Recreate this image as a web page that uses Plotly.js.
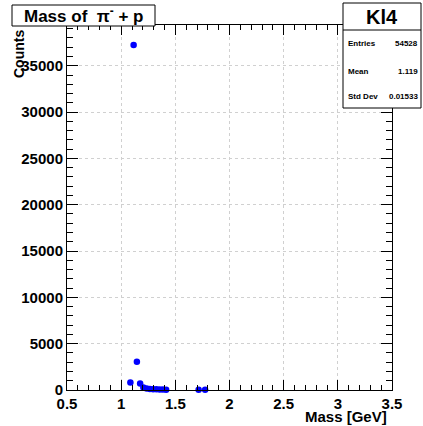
<!DOCTYPE html>
<html>
<head>
<meta charset="utf-8">
<script src="https://cdn.plot.ly/plotly-3.0.1.min.js"></script>
<style>html,body{margin:0;padding:0;background:#fff;}#chart{width:423px;height:426px;}</style>
</head>
<body>
<div id="chart"></div>
<script>
// Data (bin centres, counts)
const massBins = [1.085, 1.115, 1.145, 1.175, 1.205, 1.235, 1.265, 1.295, 1.325, 1.355, 1.385, 1.415, 1.715, 1.775];
const counts   = [800, 37250, 3060, 690, 260, 150, 110, 90, 70, 60, 50, 40, 30, 20];
const histName = "Kl4";
const statLabels = ["Entries", "Mean", "Std Dev"];
const statValues = ["54528", "1.119", "0.01533"];
const titleText = "Mass of  \u03c0<sup>-</sup> + p";
const xTitle = "Mass [GeV]";
const yTitle = "Counts";

const W = 423, H = 426, L = 67, R = 31, T = 25, B = 36;
const pw = W - L - R, ph = H - T - B;
const px = v => (v - L) / pw;          // pixel x -> paper x
const py = v => (H - B - v) / ph;      // pixel y -> paper y

const font = "Liberation Sans, Arial, Helvetica, sans-serif";

const shapes = [
  // title box
  {type:'rect', xref:'paper', yref:'paper', x0:px(12), x1:px(155), y0:py(26), y1:py(5),
   line:{color:'#000', width:1}, fillcolor:'#fff', layer:'above'},
  // stats box
  {type:'rect', xref:'paper', yref:'paper', x0:px(343), x1:px(421), y0:py(108), y1:py(3),
   line:{color:'#000', width:1}, fillcolor:'#fff', layer:'above'},
  {type:'line', xref:'paper', yref:'paper', x0:px(343), x1:px(421), y0:py(30), y1:py(30),
   line:{color:'#000', width:1}, layer:'above'}
];

const annotations = [
  {text:titleText, xref:'paper', yref:'paper', x:px(84), y:py(15), xanchor:'center', yanchor:'middle',
   showarrow:false, font:{family:font, size:17, color:'#000', weight:'bold'}},
  {text:histName, xref:'paper', yref:'paper', x:px(382), y:py(17), xanchor:'center', yanchor:'middle',
   showarrow:false, font:{family:font, size:20, color:'#000', weight:'bold'}},
  {text:xTitle, xref:'paper', yref:'paper', x:px(389), y:py(416), xanchor:'right', yanchor:'middle',
   showarrow:false, font:{family:font, size:15, color:'#000', weight:'bold'}},
  {text:yTitle, xref:'paper', yref:'paper', x:px(19), y:py(28), xanchor:'center', yanchor:'top',
   textangle:-90, showarrow:false, font:{family:font, size:14, color:'#000', weight:'bold'}}
];
const rowY = [43, 71, 97];
statLabels.forEach((s, i) => {
  annotations.push({text:s, xref:'paper', yref:'paper', x:px(346), y:py(rowY[i]), xanchor:'left', yanchor:'middle',
    showarrow:false, font:{family:font, size:8, color:'#000', weight:'bold'}});
  annotations.push({text:statValues[i], xref:'paper', yref:'paper', x:px(420), y:py(rowY[i]), xanchor:'right', yanchor:'middle',
    showarrow:false, font:{family:font, size:8, color:'#000', weight:'bold'}});
});

const trace = {
  x: massBins, y: counts, type:'scatter', mode:'markers',
  marker:{color:'#0000ff', size:6.5, symbol:'circle'}, cliponaxis:false, hoverinfo:'x+y'
};

const layout = {
  width:W, height:H, margin:{l:L, r:R, t:T, b:B},
  paper_bgcolor:'#fff', plot_bgcolor:'#fff', showlegend:false,
  font:{family:font, color:'#000'},
  xaxis:{range:[0.5, 3.5], tickmode:'linear', tick0:0.5, dtick:0.5,
    ticks:'inside', ticklen:10, tickwidth:1, tickcolor:'#000',
    minor:{dtick:0.1, tick0:0.5, ticks:'inside', ticklen:5, tickcolor:'#000', showgrid:false},
    showline:true, linecolor:'#000', linewidth:1, mirror:'ticks',
    showgrid:true, gridcolor:'#d0d0d0', griddash:'dot', gridwidth:1, zeroline:false,
    tickfont:{family:font, size:15, color:'#000', weight:'bold'}},
  yaxis:{range:[0, 39400], tickmode:'linear', tick0:0, dtick:5000, tickformat:'d',
    ticks:'inside', ticklen:11, tickwidth:1, tickcolor:'#000',
    minor:{dtick:1000, ticks:'inside', ticklen:6, tickcolor:'#000', showgrid:false},
    showline:true, linecolor:'#000', linewidth:1, mirror:'ticks',
    showgrid:true, gridcolor:'#d0d0d0', griddash:'dot', gridwidth:1, zeroline:false,
    tickfont:{family:font, size:15, color:'#000', weight:'bold'}},
  shapes:shapes, annotations:annotations
};

Plotly.newPlot('chart', [trace], layout, {displayModeBar:false, staticPlot:true});
</script>
</body>
</html>
